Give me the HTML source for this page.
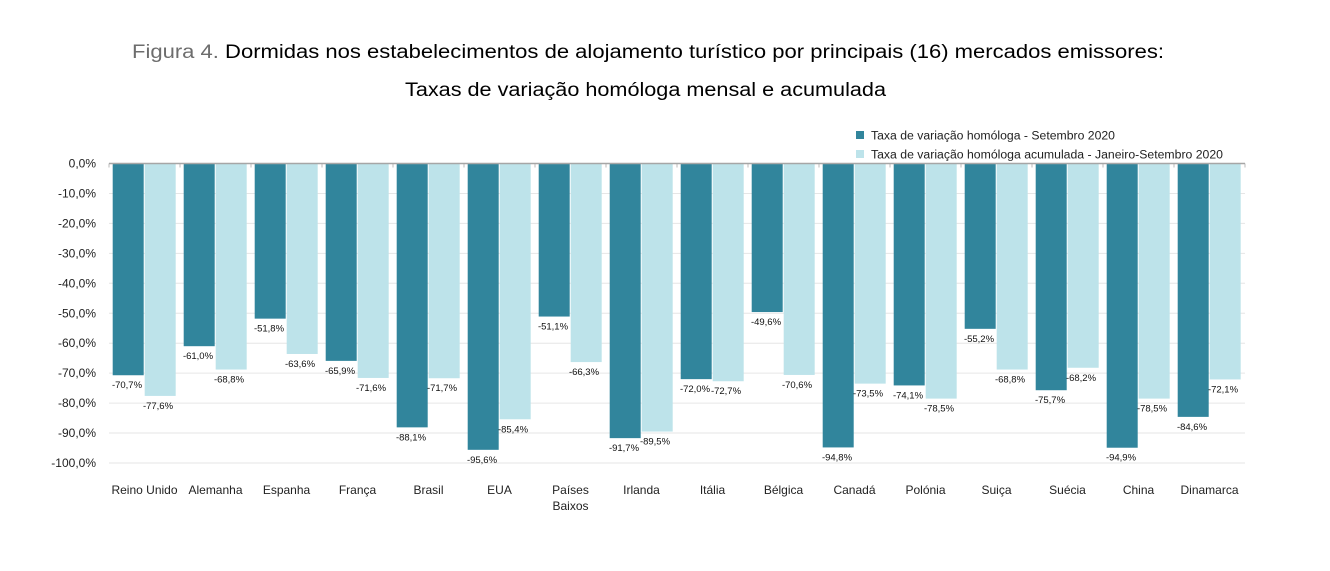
<!DOCTYPE html>
<html><head><meta charset="utf-8">
<style>
html,body{margin:0;padding:0;background:#fff;width:1330px;height:571px;overflow:hidden}
svg{display:block;font-family:"Liberation Sans",sans-serif}
</style></head>
<body>
<svg id="chart" width="1330" height="571" viewBox="0 0 1330 571">
  <text x="132" y="58" font-size="19" textLength="1032" lengthAdjust="spacingAndGlyphs"><tspan fill="#6d6d6d">Figura 4.</tspan><tspan fill="#000"> Dormidas nos estabelecimentos de alojamento turístico por principais (16) mercados emissores:</tspan></text>
  <text x="405" y="96" font-size="19" fill="#000" textLength="481" lengthAdjust="spacingAndGlyphs">Taxas de variação homóloga mensal e acumulada</text>
  <g>
    <rect x="856" y="131" width="8" height="8" fill="#31859c"/>
    <text x="871" y="139.5" font-size="11.5" fill="#222" textLength="244" lengthAdjust="spacingAndGlyphs">Taxa de variação homóloga - Setembro 2020</text>
    <rect x="856" y="150" width="8" height="8" fill="#bde3ea"/>
    <text x="871" y="158.5" font-size="11.5" fill="#222" textLength="352" lengthAdjust="spacingAndGlyphs">Taxa de variação homóloga acumulada - Janeiro-Setembro 2020</text>
  </g>
  <g id="grid"></g>
  <g id="bars"></g>
  <g id="labels"></g>
</svg>
<script>
const categories = ["Reino Unido","Alemanha","Espanha","França","Brasil","EUA","Países|Baixos","Irlanda","Itália","Bélgica","Canadá","Polónia","Suiça","Suécia","China","Dinamarca"];
const monthly = [-70.7,-61.0,-51.8,-65.9,-88.1,-95.6,-51.1,-91.7,-72.0,-49.6,-94.8,-74.1,-55.2,-75.7,-94.9,-84.6];
const cumulative = [-77.6,-68.8,-63.6,-71.6,-71.7,-85.4,-66.3,-89.5,-72.7,-70.6,-73.5,-78.5,-68.8,-68.2,-78.5,-72.1];
const yTicks = [0,-10,-20,-30,-40,-50,-60,-70,-80,-90,-100];

const NS="http://www.w3.org/2000/svg";
const pLeft=109, pRight=1245, pTop=163.5, pBottom=463;
const catW=(pRight-pLeft)/categories.length;
const yOf=v=>pTop+(-v)/100*(pBottom-pTop);
const xOf=i=>pLeft+i*catW;
function mk(tag,attrs,parent,txt){const e=document.createElementNS(NS,tag);for(const k in attrs)e.setAttribute(k,attrs[k]);if(txt!==undefined)e.textContent=txt;parent.appendChild(e);return e;}
const gGrid=document.getElementById('grid'),gBars=document.getElementById('bars'),gLabels=document.getElementById('labels');
const fmt=v=>v.toFixed(1).replace('.',',')+'%';
yTicks.forEach(t=>{
  if(t!==0){const g=mk('line',{x1:pLeft,x2:pRight,y1:yOf(t),y2:yOf(t),stroke:'#e6e6e6','stroke-width':1},gGrid);
  
  }
  const l=mk('text',{x:96,y:yOf(t)+4,'font-size':12,'text-anchor':'end',fill:'#222'},gGrid,t.toFixed(1).replace('.',',')+'%');
  
  
});
categories.forEach((c,i)=>{
  const x0=xOf(i);
  const d=mk('rect',{x:x0+3.7,y:pTop,width:31,height:yOf(monthly[i])-pTop,fill:'#31859c'},gBars);
  
  
  const lb=mk('rect',{x:x0+35.7,y:pTop,width:31,height:yOf(cumulative[i])-pTop,fill:'#bde3ea'},gBars);
  
  
  const t1=mk('text',{x:x0+18,y:yOf(monthly[i])+13,'font-size':9.5,'text-anchor':'middle',fill:'#111'},gLabels,fmt(monthly[i]));
  
  
  const t2=mk('text',{x:x0+49,y:yOf(cumulative[i])+13,'font-size':9.5,'text-anchor':'middle',fill:'#111'},gLabels,fmt(cumulative[i]));
  
  
  const tk=mk('line',{x1:x0,x2:x0,y1:pTop,y2:pTop+4,stroke:'#bbb'},gGrid);
  
  
  c.split('|').forEach((part,k)=>{
    const ct=mk('text',{x:x0+catW/2,y:494+k*16,'font-size':12,'text-anchor':'middle',fill:'#222'},gLabels,part);
    
    
  });
});
const tkEnd=mk('line',{x1:pRight,x2:pRight,y1:pTop,y2:pTop+4,stroke:'#bbb'},gGrid);


const ax=mk('line',{x1:pLeft,x2:pRight,y1:pTop,y2:pTop,stroke:'#a6a6a6','stroke-width':1.5},gLabels);


</script>
</body></html>
